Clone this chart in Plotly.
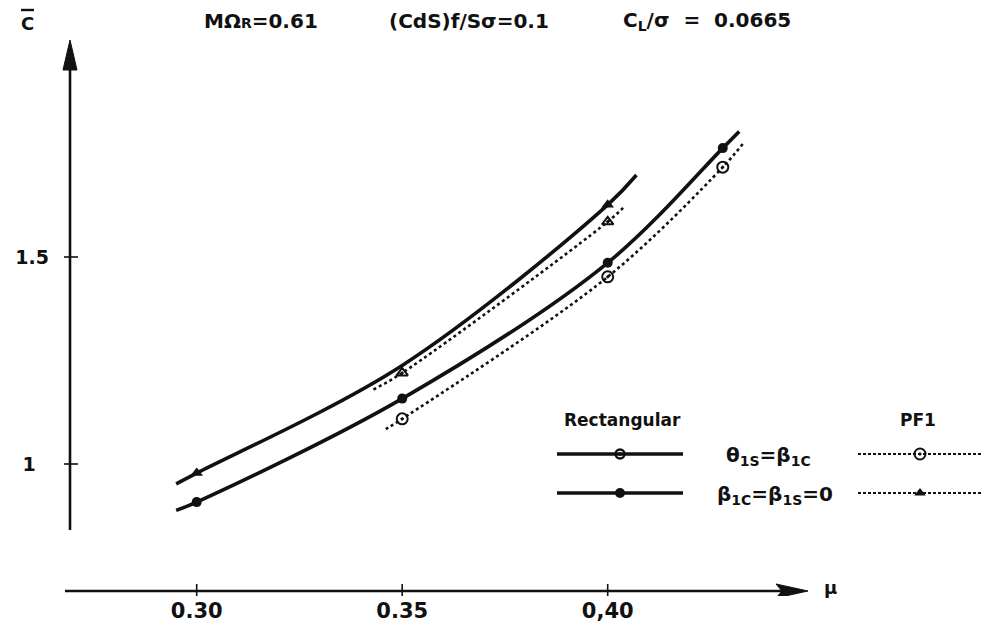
import plotly.graph_objects as go

# ---- data (advance ratio mu vs. mean coefficient C-bar) ----
# Rectangular blade, theta_1s = beta_1c
rect_a_curve_mu = [0.295, 0.300, 0.350, 0.400, 0.428, 0.432]
rect_a_curve_c = [0.888, 0.908, 1.158, 1.486, 1.763, 1.803]
rect_a_pts_mu = [0.300, 0.350, 0.400, 0.428]
rect_a_pts_c = [0.908, 1.158, 1.486, 1.763]

# Rectangular blade, beta_1c = beta_1s = 0
rect_b_curve_mu = [0.295, 0.300, 0.350, 0.400, 0.407]
rect_b_curve_c = [0.952, 0.978, 1.238, 1.626, 1.698]
rect_b_pts_mu = [0.300, 0.400]
rect_b_pts_c = [0.978, 1.626]

# PF1 blade, theta_1s = beta_1c
pf1_a_curve_mu = [0.346, 0.350, 0.400, 0.428, 0.433]
pf1_a_curve_c = [1.084, 1.109, 1.452, 1.717, 1.775]
pf1_a_pts_mu = [0.350, 0.400, 0.428]
pf1_a_pts_c = [1.109, 1.452, 1.717]

# PF1 blade, beta_1c = beta_1s = 0
pf1_b_curve_mu = [0.343, 0.350, 0.400, 0.404]
pf1_b_curve_c = [1.180, 1.220, 1.585, 1.621]
pf1_b_pts_mu = [0.350, 0.400]
pf1_b_pts_c = [1.220, 1.585]

x_tick_vals = [0.30, 0.35, 0.40]
x_tick_text = ["0.30", "0.35", "0,40"]
y_tick_vals = [1.0, 1.5]
y_tick_text = ["1\u00a0\u00a0", "1.5"]

FONT = "DejaVu Sans"
BLACK = "#111111"

# plot area in page pixels (used to place the decorations)
L, R, T, B = 50, 985, 0, 596

fig = go.Figure()

# ---- curves ----
solid = dict(color=BLACK, width=3.6, shape="spline", smoothing=1.0)
dotted = dict(color=BLACK, width=2.6, dash="3px,3px", shape="spline", smoothing=1.0)

fig.add_trace(go.Scatter(x=rect_a_curve_mu, y=rect_a_curve_c, mode="lines", line=solid, hoverinfo="skip"))
fig.add_trace(go.Scatter(x=rect_b_curve_mu, y=rect_b_curve_c, mode="lines", line=solid, hoverinfo="skip"))
fig.add_trace(go.Scatter(x=pf1_a_curve_mu, y=pf1_a_curve_c, mode="lines", line=dotted, hoverinfo="skip"))
fig.add_trace(go.Scatter(x=pf1_b_curve_mu, y=pf1_b_curve_c, mode="lines", line=dotted, hoverinfo="skip"))

# ---- measured points ----
fig.add_trace(go.Scatter(x=rect_a_pts_mu, y=rect_a_pts_c, mode="markers",
                         marker=dict(symbol="circle", size=10, color=BLACK)))
fig.add_trace(go.Scatter(x=rect_b_pts_mu, y=rect_b_pts_c, mode="markers",
                         marker=dict(symbol="triangle-up", size=11, color=BLACK)))
fig.add_trace(go.Scatter(x=pf1_a_pts_mu, y=pf1_a_pts_c, mode="markers",
                         marker=dict(symbol="circle-open-dot", size=11, color=BLACK,
                                     line=dict(width=2, color=BLACK))))
fig.add_trace(go.Scatter(x=pf1_b_pts_mu, y=pf1_b_pts_c, mode="markers",
                         marker=dict(symbol="triangle-up-open-dot", size=10, color=BLACK,
                                     line=dict(width=2, color=BLACK))))

# ---- legend keys, drawn on a pixel-scaled overlay (x2/y2) ----
def key(x0, x1, y, line, marker):
    fig.add_trace(go.Scatter(x=[x0, x1], y=[y, y], mode="lines", line=line,
                             xaxis="x2", yaxis="y2", hoverinfo="skip"))
    fig.add_trace(go.Scatter(x=[(x0 + x1) / 2], y=[y], mode="markers", marker=marker,
                             xaxis="x2", yaxis="y2", hoverinfo="skip"))

key_solid = dict(color=BLACK, width=3.6)
key_dot = dict(color=BLACK, width=2.2, dash="3px,2px")
key(557, 683, 454, key_solid, dict(symbol="circle-open-dot", size=9, color=BLACK, line=dict(width=2.5, color=BLACK)))
key(557, 683, 493, key_solid, dict(symbol="circle", size=10, color=BLACK))
key(858, 982, 454, key_dot, dict(symbol="circle-open-dot", size=11, color=BLACK, line=dict(width=2, color=BLACK)))
key(858, 982, 493, key_dot, dict(symbol="triangle-up", size=10, color=BLACK))

# ---- hand-drawn style axes with arrows (pixel overlay) ----
def px(x):
    return (x - L) / (R - L)

def py(y):
    return (B - y) / (B - T)

shapes = [
    dict(type="line", xref="x2", yref="y2", x0=70, x1=70, y0=64, y1=530,
         line=dict(color=BLACK, width=2.6)),
    dict(type="path", xref="x2", yref="y2", path="M 70 40 L 63 70 L 77 70 Z",
         fillcolor=BLACK, line=dict(color=BLACK, width=1)),
    dict(type="line", xref="x2", yref="y2", x0=65, x1=782, y0=591, y1=591,
         line=dict(color=BLACK, width=2.6)),
    dict(type="path", xref="x2", yref="y2", path="M 808 591 L 776 584 L 782 591 L 776 598 Z",
         fillcolor=BLACK, line=dict(color=BLACK, width=1)),
    # bar over the C of the axis title
    dict(type="line", xref="paper", yref="paper", x0=px(21), x1=px(34), y0=py(10), y1=py(10),
         line=dict(color=BLACK, width=2.4)),
]
for v in x_tick_vals:
    shapes.append(dict(type="line", xref="x", yref="y2", x0=v, x1=v, y0=584, y1=598,
                       line=dict(color=BLACK, width=1.6)))
for v in y_tick_vals:
    shapes.append(dict(type="line", xref="x2", yref="y", x0=64, x1=78, y0=v, y1=v,
                       line=dict(color=BLACK, width=1.6)))

def txt(x, y, s, size, xanchor="center"):
    return dict(x=px(x), y=py(y), xref="paper", yref="paper", text=s, showarrow=False,
                xanchor=xanchor, yanchor="middle",
                font=dict(family=FONT, size=size, color=BLACK, weight="bold"))

annotations = [
    txt(27, 23, "C", 18),
    txt(830, 587, "μ", 18),
    txt(261, 21, "MΩ<span style='font-size:14px'>R</span>=0.61", 20),
    txt(469, 21, "(CdS)f/Sσ=0.1", 20),
    txt(707, 21, "C<sub>L</sub>/σ\u00a0\u00a0=\u00a0\u00a00.0665", 20),
    txt(622, 420, "Rectangular", 17),
    txt(918, 420, "PF1", 17),
    txt(768, 456, "θ<sub>1S</sub>=β<sub>1C</sub>", 20),
    txt(775, 495, "β<sub>1C</sub>=β<sub>1S</sub>=0", 20),
]

fig.update_layout(
    width=985, height=626,
    margin=dict(l=L, r=985 - R, t=T, b=626 - B),
    paper_bgcolor="white", plot_bgcolor="white",
    showlegend=False,
    shapes=shapes,
    annotations=annotations,
    xaxis=dict(range=[0.264307, 0.491800], showgrid=False, zeroline=False, showline=False,
               tickmode="array", tickvals=x_tick_vals, ticktext=x_tick_text, ticks="",
               tickfont=dict(family=FONT, size=21, color=BLACK, weight="bold")),
    yaxis=dict(range=[0.681159, 2.120773], showgrid=False, zeroline=False, showline=False,
               tickmode="array", tickvals=y_tick_vals, ticktext=y_tick_text, ticks="",
               tickfont=dict(family=FONT, size=19, color=BLACK, weight="bold")),
    xaxis2=dict(range=[L, R], overlaying="x", visible=False),
    yaxis2=dict(range=[B, T], overlaying="y", visible=False),
)

fig.write_html("out.html")
